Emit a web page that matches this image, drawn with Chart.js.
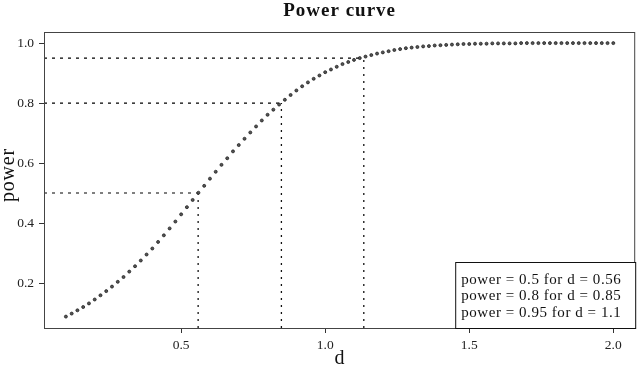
<!DOCTYPE html>
<html>
<head>
<meta charset="utf-8">
<script src="https://cdn.jsdelivr.net/npm/chart.js@4"></script>
<style>
  html, body { margin: 0; padding: 0; background: #fff; }
  #wrap { width: 640px; height: 370px; }
</style>
</head>
<body>
<div id="wrap"><canvas id="power-chart" width="640" height="370"></canvas></div>
<script>
// effect size d
var dValues = [0.10,0.12,0.14,0.16,0.18,0.20,0.22,0.24,0.26,0.28,
               0.30,0.32,0.34,0.36,0.38,0.40,0.42,0.44,0.46,0.48,
               0.50,0.52,0.54,0.56,0.58,0.60,0.62,0.64,0.66,0.68,
               0.70,0.72,0.74,0.76,0.78,0.80,0.82,0.84,0.86,0.88,
               0.90,0.92,0.94,0.96,0.98,1.00,1.02,1.04,1.06,1.08,
               1.10,1.12,1.14,1.16,1.18,1.20,1.22,1.24,1.26,1.28,
               1.30,1.32,1.34,1.36,1.38,1.40,1.42,1.44,1.46,1.48,
               1.50,1.52,1.54,1.56,1.58,1.60,1.62,1.64,1.66,1.68,
               1.70,1.72,1.74,1.76,1.78,1.80,1.82,1.84,1.86,1.88,
               1.90,1.92,1.94,1.96,1.98,2.00];
// power
var powerValues = [0.088,0.098,0.109,0.120,0.132,0.145,0.159,0.173,0.188,0.204,
                   0.220,0.238,0.256,0.275,0.295,0.315,0.337,0.359,0.382,0.405,
                   0.429,0.453,0.477,0.501,0.524,0.548,0.571,0.594,0.616,0.639,
                   0.660,0.681,0.702,0.722,0.742,0.761,0.778,0.795,0.811,0.827,
                   0.842,0.856,0.869,0.881,0.892,0.903,0.912,0.921,0.930,0.937,
                   0.944,0.950,0.955,0.960,0.965,0.969,0.973,0.977,0.980,0.983,
                   0.985,0.987,0.989,0.990,0.992,0.993,0.994,0.995,0.996,0.997,
                   0.997,0.998,0.998,0.998,0.999,0.999,0.999,0.999,0.999,1.000,
                   1.000,1.000,1.000,1.000,1.000,1.000,1.000,1.000,1.000,1.000,
                   1.000,1.000,1.000,1.000,1.000,1.000];

// reference levels
var targetPower = [0.5, 0.8, 0.95];
var targetD = [0.559, 0.848, 1.134];
var legendLines = ["power = 0.5 for d = 0.56",
                   "power = 0.8 for d = 0.85",
                   "power = 0.95 for d = 1.1"];

var xTicks = [0.5, 1.0, 1.5, 2.0];
var yTicks = [0.2, 0.4, 0.6, 0.8, 1.0];

var X_MIN = 0.024, X_MAX = 2.076, Y_MIN = 0.05, Y_MAX = 1.037;

var serif = "'Liberation Serif', 'DejaVu Serif', serif";

var curve = dValues.map(function (d, i) { return {x: d, y: powerValues[i]}; });

var refSets = [];
targetPower.forEach(function (p, i) {
    refSets.push({
        type: 'line', data: [{x: X_MIN, y: p}, {x: targetD[i], y: p}],
        borderColor: '#000', borderWidth: 1.1, borderDash: [3, 5],
        pointRadius: 0, fill: false
    });
    refSets.push({
        type: 'line', data: [{x: targetD[i], y: Y_MIN}, {x: targetD[i], y: p}],
        borderColor: '#111', borderWidth: 1.3, borderDash: [2, 5],
        pointRadius: 0, fill: false
    });
});

var decorations = {
    id: 'decorations',
    afterDraw: function (chart) {
        var ctx = chart.ctx, a = chart.chartArea;
        ctx.save();
        // plot frame
        ctx.strokeStyle = '#444';
        ctx.lineWidth = 1;
        ctx.strokeRect(a.left + 0.5, a.top + 0.5, a.right - a.left - 1, a.bottom - a.top);
        // title
        ctx.fillStyle = '#111';
        ctx.textAlign = 'center';
        ctx.textBaseline = 'alphabetic';
        ctx.font = 'bold 19px ' + serif;
        ctx.letterSpacing = '1px';
        ctx.fillText('Power curve', (a.left + a.right) / 2, 16);
        ctx.letterSpacing = '0px';
        // axis titles
        ctx.font = '20px ' + serif;
        ctx.fillText('d', (a.left + a.right) / 2, 364);
        ctx.translate(14, (a.top + a.bottom) / 2 - 5);
        ctx.rotate(-Math.PI / 2);
        ctx.letterSpacing = '0.8px';
        ctx.fillText('power', 0, 0);
        ctx.restore();

        // legend box
        ctx.save();
        var w = 180, h = 66;
        var bx = a.right - w, by = a.bottom - h;
        ctx.fillStyle = '#fff';
        ctx.fillRect(bx, by, w, h);
        ctx.strokeStyle = '#111';
        ctx.lineWidth = 1;
        ctx.strokeRect(bx + 0.5, by + 0.5, w, h);
        ctx.fillStyle = '#111';
        ctx.font = '15px ' + serif;
        ctx.letterSpacing = '0.55px';
        ctx.textAlign = 'left';
        ctx.textBaseline = 'middle';
        legendLines.forEach(function (t, i) {
            ctx.fillText(t, bx + 6, by + 18 + i * 16.5);
        });
        ctx.restore();
    }
};

new Chart(document.getElementById('power-chart'), {
    type: 'scatter',
    data: {
        datasets: [{
            label: 'power',
            data: curve,
            pointRadius: 1.5,
            pointBackgroundColor: '#555',
            pointBorderColor: '#222',
            pointBorderWidth: 0.8
        }].concat(refSets)
    },
    options: {
        responsive: false,
        animation: false,
        events: [],
        layout: { padding: { top: 32, right: 3, left: 0, bottom: 0 } },
        plugins: {
            legend: { display: false },
            title: { display: false },
            tooltip: { enabled: false }
        },
        scales: {
            x: {
                type: 'linear', min: X_MIN, max: X_MAX,
                afterBuildTicks: function (s) { s.ticks = xTicks.map(function (v) { return {value: v}; }); },
                afterFit: function (s) { s.height = 42; },
                border: { display: false },
                grid: { drawOnChartArea: false, drawTicks: true, tickLength: 5, color: '#333' },
                ticks: {
                    padding: 4, color: '#222', maxRotation: 0,
                    font: { family: serif, size: 13.5 },
                    callback: function (v) { return v.toFixed(1); }
                }
            },
            y: {
                type: 'linear', min: Y_MIN, max: Y_MAX,
                afterBuildTicks: function (s) { s.ticks = yTicks.map(function (v) { return {value: v}; }); },
                afterFit: function (s) { s.width = 44; },
                border: { display: false },
                grid: { drawOnChartArea: false, drawTicks: true, tickLength: 5, color: '#333' },
                ticks: {
                    padding: 5, color: '#222',
                    font: { family: serif, size: 13.5 },
                    callback: function (v) { return v.toFixed(1); }
                }
            }
        }
    },
    plugins: [decorations]
});
</script>
</body>
</html>
